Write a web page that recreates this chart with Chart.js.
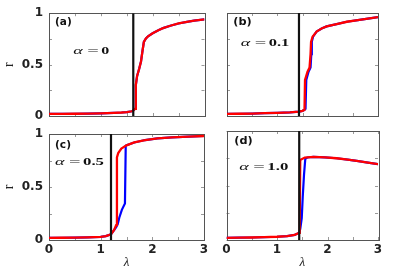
<!DOCTYPE html>
<html><head><meta charset="utf-8">
<script src="https://cdn.jsdelivr.net/npm/chart.js@4/dist/chart.umd.min.js"></script>
<style>
html,body{margin:0;padding:0;background:#fff;width:399px;height:271px;overflow:hidden}
.p{position:absolute;left:0;top:0;width:399px;height:271px}
</style></head><body>
<div class="p"><canvas id="ca" width="399" height="271"></canvas></div>
<div class="p"><canvas id="cb" width="399" height="271"></canvas></div>
<div class="p"><canvas id="cc" width="399" height="271"></canvas></div>
<div class="p"><canvas id="cd" width="399" height="271"></canvas></div>
<script>
// ---- data ----
const xTickVals = [0, 0.5, 1, 1.5, 2, 2.5, 3];
const yTickVals = [0, 0.25, 0.5, 0.75, 1];
const panelLabels = ['(a)', '(b)', '(c)', '(d)'];
const alphaValues = ['0', '0.1', '0.5', '1.0'];
const criticalLambda = [1.626, 1.43, 1.2, 1.44];

const lamA_red = [0,0.25,0.5,0.75,1,1.25,1.4,1.5,1.6,1.63,1.66,1.675,1.7,1.74,1.775,1.8,1.83,1.87,1.91,2,2.11,2.2,2.34,2.5,2.66,2.8,3];
const rA_red   = [0.02,0.021,0.022,0.024,0.026,0.03,0.034,0.038,0.046,0.055,0.07,0.3,0.39,0.46,0.53,0.62,0.72,0.755,0.775,0.805,0.835,0.855,0.878,0.9,0.915,0.928,0.94];
const lamA_blue = [0,0.25,0.5,0.75,1,1.25,1.4,1.5,1.6,1.63,1.66,1.675,1.7,1.74,1.775,1.8,1.83,1.87,1.91,2,2.11,2.2,2.34,2.5,2.66,2.8,3];
const rA_blue   = [0.02,0.021,0.022,0.024,0.026,0.03,0.034,0.038,0.046,0.055,0.07,0.3,0.39,0.46,0.53,0.62,0.72,0.755,0.775,0.805,0.835,0.855,0.878,0.9,0.915,0.928,0.94];

const lamB_red = [0,0.25,0.5,0.75,1,1.25,1.43,1.5,1.54,1.55,1.6,1.64,1.66,1.67,1.7,1.78,1.88,1.98,2.2,2.38,2.6,2.8,3];
const rB_red   = [0.02,0.022,0.024,0.027,0.03,0.035,0.042,0.05,0.06,0.35,0.43,0.47,0.6,0.72,0.77,0.82,0.85,0.87,0.895,0.915,0.93,0.945,0.96];
const lamB_blue = [0,0.25,0.5,0.75,1,1.25,1.43,1.5,1.54,1.56,1.575,1.62,1.66,1.675,1.685,1.71,1.78,1.88,1.98,2.2,2.38,2.6,2.8,3];
const rB_blue   = [0.02,0.022,0.024,0.027,0.03,0.035,0.042,0.05,0.06,0.07,0.35,0.43,0.47,0.6,0.72,0.77,0.82,0.85,0.87,0.895,0.915,0.93,0.945,0.96];

const lamC_red = [0,0.25,0.5,0.75,1,1.1,1.2,1.26,1.3,1.315,1.34,1.4,1.5,1.65,1.86,2.1,2.38,2.7,3];
const rC_red   = [0.02,0.021,0.022,0.025,0.03,0.037,0.054,0.094,0.14,0.78,0.82,0.862,0.893,0.92,0.943,0.958,0.969,0.976,0.981];
const lamC_blue = [0,0.25,0.5,0.75,1,1.1,1.2,1.26,1.3,1.33,1.36,1.41,1.47,1.485,1.5,1.65,1.86,2.1,2.38,2.7,3];
const rC_blue   = [0.02,0.021,0.022,0.025,0.03,0.037,0.054,0.094,0.12,0.15,0.21,0.285,0.345,0.89,0.893,0.92,0.943,0.958,0.969,0.976,0.981];

const lamD_red = [0,0.25,0.5,0.75,1,1.2,1.35,1.44,1.45,1.46,1.55,1.72,1.95,2.18,2.4,2.58,2.8,3];
const rD_red   = [0.02,0.021,0.023,0.026,0.03,0.036,0.047,0.066,0.2,0.735,0.756,0.762,0.758,0.75,0.738,0.726,0.71,0.696];
const lamD_blue = [0,0.25,0.5,0.75,1,1.2,1.35,1.44,1.46,1.49,1.51,1.535,1.56,1.6,1.72,1.95,2.18,2.4,2.58,2.8,3];
const rD_blue   = [0.02,0.021,0.023,0.026,0.03,0.036,0.047,0.066,0.1,0.2,0.4,0.6,0.745,0.757,0.762,0.758,0.75,0.738,0.726,0.71,0.696];

// ---- helpers ----
const pts = (xs, ys) => xs.map((x, i) => ({x, y: ys[i]}));

function drawStretched(ctx, t, font, x0, x1, y) {
  ctx.font = font;
  const w = ctx.measureText(t).width;
  ctx.save();
  ctx.translate(x0, y);
  ctx.scale((x1 - x0) / w, 1);
  ctx.textBaseline = 'middle';
  ctx.textAlign = 'left';
  ctx.fillStyle = '#111';
  ctx.fillText(t, 0, 0);
  ctx.restore();
}

const framePlugin = {
  id: 'frame',
  beforeDatasetsDraw(chart) {
    const {ctx, chartArea: {left, top, right, bottom}, scales: {x, y}} = chart;
    ctx.save();
    ctx.strokeStyle = '#999';
    ctx.lineWidth = 1;
    ctx.beginPath();
    xTickVals.forEach(v => {
      const px = Math.round(x.getPixelForValue(v)) + 0.5;
      ctx.moveTo(px, bottom); ctx.lineTo(px, bottom - 3);
      ctx.moveTo(px, top); ctx.lineTo(px, top + 3);
    });
    yTickVals.forEach(v => {
      const py = Math.round(y.getPixelForValue(v)) + 0.5;
      ctx.moveTo(left, py); ctx.lineTo(left + 3, py);
      ctx.moveTo(right, py); ctx.lineTo(right - 3, py);
    });
    ctx.stroke();
    ctx.strokeStyle = '#555';
    ctx.strokeRect(Math.round(left) + 0.5, Math.round(top) + 0.5, Math.round(right - left), Math.round(bottom - top));
    ctx.restore();
  },
  afterDraw(chart, args, opts) {
    const ctx = chart.ctx;
    const L = opts.lab;
    drawStretched(ctx, L.panel, 'bold 10px "DejaVu Sans"', L.px0, L.px1, L.py);
    drawStretched(ctx, '\u03B1', 'italic 11px "Liberation Serif"', L.a0, L.a0 + 9.5, L.ay);
    drawStretched(ctx, '=', '11px "Liberation Serif"', L.a0 + 14, L.a0 + 25.5, L.ay);
    drawStretched(ctx, L.val, 'bold 11px "Liberation Serif"', L.a0 + 28, L.vx1, L.ay);
  }
};

Chart.defaults.color = '#222';
Chart.defaults.font.family = '"DejaVu Sans"';

function makePanel(id, idx, redX, redY, blueX, blueY, cfg) {
  const lc = criticalLambda[idx];
  new Chart(document.getElementById(id), {
    type: 'line',
    data: {
      datasets: [
        {data: pts([lc, lc], [0, 1]), borderColor: '#111', borderWidth: 2.2, pointRadius: 0, order: 0},
        {data: pts(redX, redY), borderColor: '#ff0000', borderWidth: 2.3, pointRadius: 0, tension: 0, order: 1},
        {data: pts(blueX, blueY), borderColor: '#0000ff', borderWidth: 2.2, pointRadius: 0, tension: 0, order: 2}
      ]
    },
    options: {
      responsive: false, animation: false, events: [],
      layout: {padding: cfg.pad},
      plugins: {legend: {display: false}, tooltip: {enabled: false}, frame: {lab: cfg.lab}},
      scales: {
        x: {
          type: 'linear', min: 0, max: 3, display: cfg.showX,
          grid: {display: false, drawTicks: false}, border: {display: false},
          ticks: {stepSize: 0.5, autoSkip: false, maxRotation: 0, padding: 3,
                  font: {size: 12, weight: 'bold'},
                  callback: v => (Number.isInteger(v) ? String(v) : '')},
          title: {display: true, text: '\u03BB', padding: {top: 0, bottom: 1},
                  font: {family: '"Liberation Serif"', size: 13, style: 'italic'}},
          afterFit: s => { s.height = cfg.showX ? 31 : 0; }
        },
        y: {
          type: 'linear', min: 0, max: 1, display: cfg.showY,
          grid: {display: false, drawTicks: false}, border: {display: false},
          ticks: {stepSize: 0.25, autoSkip: false, padding: 6,
                  font: {size: 12, weight: 'bold'},
                  callback: v => (v === 0 ? '0' : v === 0.5 ? '0.5' : v === 1 ? '1' : '')},
          title: {display: true, text: 'r', padding: {top: 0.5, bottom: 0},
                  font: {family: '"Liberation Serif"', size: 14}},
          afterFit: s => { s.width = cfg.showY ? 49 : 0; }
        }
      }
    },
    plugins: [framePlugin]
  });
}

makePanel('ca', 0, lamA_red, rA_red, lamA_blue, rA_blue, {
  showX: false, showY: true,
  pad: {left: 0, right: 194.5, top: 13, bottom: 155},
  lab: {panel: panelLabels[0], px0: 55, px1: 71.7, py: 22.5, val: alphaValues[0], a0: 73.3, vx1: 109.3, ay: 51}
});
makePanel('cb', 1, lamB_red, rB_red, lamB_blue, rB_blue, {
  showX: false, showY: false,
  pad: {left: 227, right: 21, top: 13, bottom: 155},
  lab: {panel: panelLabels[1], px0: 233.3, px1: 251.7, py: 22.7, val: alphaValues[1], a0: 240.7, vx1: 289.3, ay: 43.3}
});
makePanel('cc', 2, lamC_red, rC_red, lamC_blue, rC_blue, {
  showX: true, showY: true,
  pad: {left: 0, right: 195, top: 134, bottom: 0},
  lab: {panel: panelLabels[2], px0: 55, px1: 71, py: 145, val: alphaValues[2], a0: 55, vx1: 104, ay: 161.7}
});
makePanel('cd', 3, lamD_red, rD_red, lamD_blue, rD_blue, {
  showX: true, showY: false,
  pad: {left: 226.5, right: 21, top: 131, bottom: 0},
  lab: {panel: panelLabels[3], px0: 234.3, px1: 252.7, py: 141.7, val: alphaValues[3], a0: 239.3, vx1: 288.3, ay: 166.7}
});
</script>
</body></html>
